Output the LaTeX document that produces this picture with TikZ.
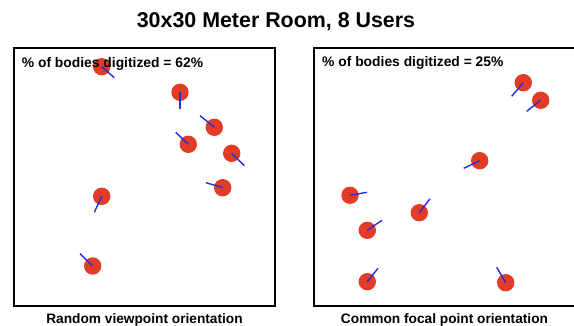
\documentclass[tikz,border=0pt]{standalone}
\usepackage{fontspec}
\setmainfont{Liberation Sans}
\usepackage{xcolor}
\usetikzlibrary{positioning, calc}
\definecolor{userred}{RGB}{226,60,38}
\definecolor{viewblue}{RGB}{32,48,222}
\tikzset{
    room/.style={draw=black, line width=2pt},
    user/.style={circle, fill=userred, minimum size=17.4pt, inner sep=0pt},
    view/.style={viewblue, line width=1.4pt},
    every node/.style={font=\bfseries}
}

\begin{document}
\begin{tikzpicture}[x=1pt, y=-1pt]
    \useasboundingbox (0,0) rectangle (574,326);
    % Title
    \node[anchor=base, font=\bfseries\fontsize{21.4}{24}\selectfont] (title) at (276,27.7) {30x30 Meter Room, 8 Users};
    % Rooms
    \draw[room] (14,48) rectangle (275,306);
    \draw[room] (314,48) rectangle (576,306);
    % Users, random orientation
    \foreach \i/\x/\y/\u/\v in {1/101.7/66.7/114.3/77.7, 2/180/92.3/180/109.3,
        3/214.3/127.3/200/115.7, 4/188.3/144.3/175.7/132.3,
        5/231.7/153.3/244.3/165.7, 6/222.7/187.7/206/182.7,
        7/101.7/196.3/94.3/212.3, 8/92.7/266/80/253.7} {
        \node[user] (L\i) at (\x,\y) {};
        \coordinate (LV\i) at (\u,\v);
        \draw[view] (L\i.center) -- (LV\i);
    }
    % Users, common focal point
    \foreach \i/\x/\y/\u/\v in {1/523.3/82.7/511.7/96.3, 2/540.7/100.3/526.7/111.3,
        3/479.7/160.7/463.7/168.3, 4/350/195.3/367/192.3,
        5/419.3/212.7/430/198.7, 6/367.3/230.3/382/220.3,
        7/367.3/281.7/378/268.3, 8/505.7/282.7/496.7/267.3} {
        \node[user] (R\i) at (\x,\y) {};
        \coordinate (RV\i) at (\u,\v);
        \draw[view] (R\i.center) -- (RV\i);
    }
    % Labels
    \node[anchor=base west, font=\bfseries\fontsize{13.85}{16}\selectfont, inner sep=0pt] (scoreL) at (21.7,67.3) {\% of bodies digitized = 62\%};
    \node[anchor=base west, font=\bfseries\fontsize{13.85}{16}\selectfont, inner sep=0pt] (scoreR) at (322,66.9) {\% of bodies digitized = 25\%};
    \node[anchor=base, font=\bfseries\fontsize{13.7}{16}\selectfont] (capL) at (144.5,323.8) {Random viewpoint orientation};
    \node[anchor=base, font=\bfseries\fontsize{13.7}{16}\selectfont] (capR) at (444.5,323.8) {Common focal point orientation};
\end{tikzpicture}
\end{document}
